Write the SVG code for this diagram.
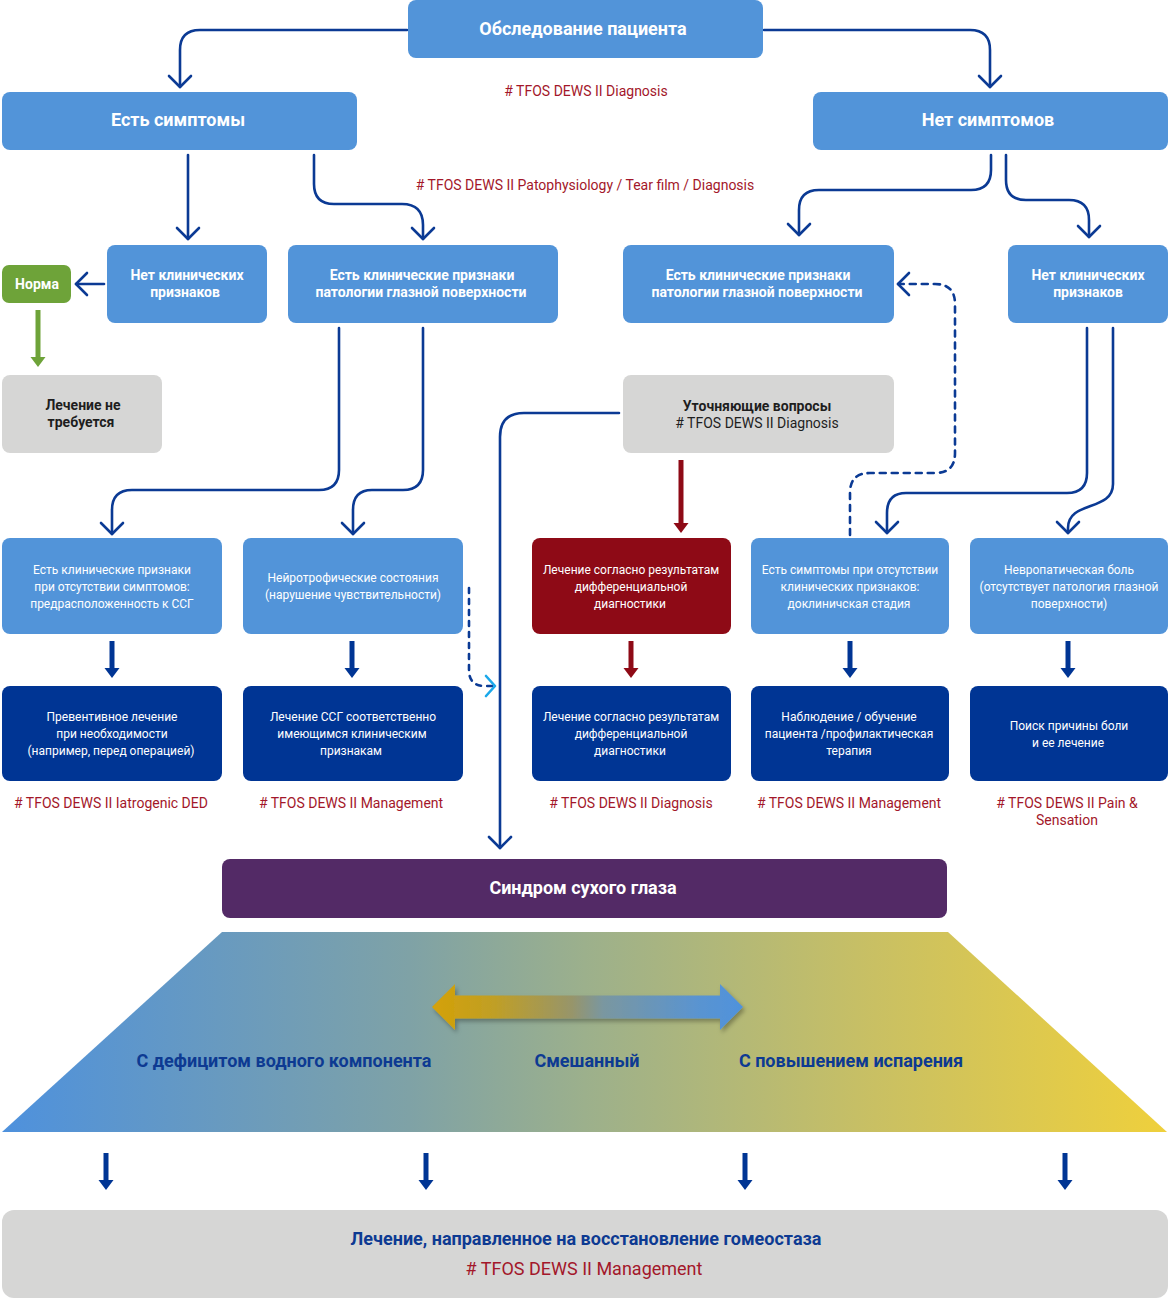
<svg xmlns="http://www.w3.org/2000/svg" width="1170" height="1300" viewBox="0 0 1170 1300">
<style>
text{font-family:Roboto,"Liberation Sans",sans-serif;text-anchor:middle}
.lb{fill:#5294d9}
.db{fill:#003594}
.gr{fill:#d6d6d5}
.t17{font-size:18px;font-weight:bold;fill:#fff}
.t13{font-size:14px;font-weight:bold;fill:#fff}
.t12{font-size:12px;fill:#fff}
.d13{font-size:14px;font-weight:bold;fill:#1e1e1e}
.ref{font-size:14px;fill:#a3172a}
.lab{font-size:18px;font-weight:bold;fill:#0d3a92}
.ln{fill:none;stroke:#0b3a94;stroke-width:2.6;stroke-linecap:round;stroke-linejoin:round}
.thk{fill:none;stroke:#003594;stroke-width:5}
</style>
<defs>
<marker id="chev" markerUnits="userSpaceOnUse" viewBox="-14 -14 28 28" markerWidth="28" markerHeight="28" refX="0" refY="0" orient="auto">
<path d="M-11,-11 L0,0 L-11,11" fill="none" stroke="#0b3a94" stroke-width="2.6" stroke-linecap="round" stroke-linejoin="round"/>
</marker>
<marker id="chevc" markerUnits="userSpaceOnUse" viewBox="-14 -14 28 28" markerWidth="28" markerHeight="28" refX="0" refY="0" orient="auto">
<path d="M-9,-10 L0,0 L-9,10" fill="none" stroke="#1aa8ea" stroke-width="2.6" stroke-linecap="round" stroke-linejoin="round"/>
</marker>
<marker id="thN" markerUnits="userSpaceOnUse" viewBox="0 -8 12 16" markerWidth="12" markerHeight="16" refX="0" refY="0" orient="auto">
<path d="M0,-7.5 L10,0 L0,7.5 z" fill="#003594"/>
</marker>
<marker id="thR" markerUnits="userSpaceOnUse" viewBox="0 -8 12 16" markerWidth="12" markerHeight="16" refX="0" refY="0" orient="auto">
<path d="M0,-7.5 L10,0 L0,7.5 z" fill="#8e0a16"/>
</marker>
<marker id="thG" markerUnits="userSpaceOnUse" viewBox="0 -8 12 16" markerWidth="12" markerHeight="16" refX="0" refY="0" orient="auto">
<path d="M0,-7.5 L10,0 L0,7.5 z" fill="#6ea339"/>
</marker>
<linearGradient id="trap" x1="0" y1="0" x2="1" y2="0">
<stop offset="0" stop-color="#4e91dd"/>
<stop offset="0.35" stop-color="#7fa2a6"/>
<stop offset="0.5" stop-color="#9cb08c"/>
<stop offset="0.75" stop-color="#c9c063"/>
<stop offset="1" stop-color="#efd03c"/>
</linearGradient>
<linearGradient id="dbl" x1="0" y1="0" x2="1" y2="0">
<stop offset="0" stop-color="#d4a106"/>
<stop offset="0.2" stop-color="#c09f26"/>
<stop offset="0.45" stop-color="#97956a"/>
<stop offset="0.55" stop-color="#7a97a0"/>
<stop offset="0.85" stop-color="#5a94d0"/>
<stop offset="1" stop-color="#4f92dc"/>
</linearGradient>
<filter id="sh" x="-10%" y="-40%" width="120%" height="180%">
<feDropShadow dx="2" dy="3" stdDeviation="2" flood-color="#000" flood-opacity="0.3"/>
</filter>
</defs>

<g id="connectors">
<path class="ln" d="M407,30 H200 Q180,30 180,50 V87" marker-end="url(#chev)"/>
<path class="ln" d="M764,30 H970 Q990,30 990,50 V87" marker-end="url(#chev)"/>
<path class="ln" d="M188,155 V239" marker-end="url(#chev)"/>
<path class="ln" d="M314,155 V184 Q314,204 334,204 H402 Q423,204 423,225 V239" marker-end="url(#chev)"/>
<path class="ln" d="M104,284 H76" marker-end="url(#chev)"/>
<path class="ln" d="M991,155 V170 Q991,190 971,190 H819 Q799,190 799,210 V235" marker-end="url(#chev)"/>
<path class="ln" d="M1006,155 V180 Q1006,200 1026,200 H1069 Q1089,200 1089,220 V237" marker-end="url(#chev)"/>
<path class="ln" d="M339,328 V470 Q339,490 319,490 H132 Q112,490 112,510 V534" marker-end="url(#chev)"/>
<path class="ln" d="M423,328 V470 Q423,490 403,490 H372 Q353,490 353,510 V534" marker-end="url(#chev)"/>
<path class="ln" d="M1087,328 V473 Q1087,493 1067,493 H906 Q887,493 887,513 V533" marker-end="url(#chev)"/>
<path class="ln" d="M1113,328 V484 C1113,512 1068,500 1068,528 V533" marker-end="url(#chev)"/>
<path class="ln" d="M619,413 H524 Q500,413 500,437 V848" marker-end="url(#chev)"/>
<path class="ln" d="M850,535 V493 Q850,473 870,473 H935 Q955,473 955,453 V304 Q955,284 935,284 H898" stroke-dasharray="6,6" marker-end="url(#chev)"/>
<path class="ln" d="M469,588 V670 Q469,686 485,686 H495" stroke="#1aa8ea" stroke-dasharray="5,6" marker-end="url(#chevc)"/>
<line x1="38" y1="310" x2="38" y2="357" stroke="#6ea339" stroke-width="5" marker-end="url(#thG)"/>
<line x1="681" y1="460" x2="681" y2="523" stroke="#8e0a16" stroke-width="5" marker-end="url(#thR)"/>
<line x1="631" y1="641" x2="631" y2="668" stroke="#8e0a16" stroke-width="5" marker-end="url(#thR)"/>
<line class="thk" x1="112" y1="641" x2="112" y2="668" marker-end="url(#thN)"/>
<line class="thk" x1="352" y1="641" x2="352" y2="668" marker-end="url(#thN)"/>
<line class="thk" x1="850" y1="641" x2="850" y2="668" marker-end="url(#thN)"/>
<line class="thk" x1="1068" y1="641" x2="1068" y2="668" marker-end="url(#thN)"/>
<line class="thk" x1="106" y1="1153" x2="106" y2="1180" marker-end="url(#thN)"/>
<line class="thk" x1="426" y1="1153" x2="426" y2="1180" marker-end="url(#thN)"/>
<line class="thk" x1="745" y1="1153" x2="745" y2="1180" marker-end="url(#thN)"/>
<line class="thk" x1="1065" y1="1153" x2="1065" y2="1180" marker-end="url(#thN)"/>
</g>

<g id="n-exam"><rect class="lb" x="408" y="0" width="355" height="58" rx="8"/><text class="t17" x="583" y="35">Обследование пациента</text></g>
<text class="ref" x="586" y="96">&#35; TFOS DEWS II Diagnosis</text>
<text class="ref" x="585" y="190">&#35; TFOS DEWS II Patophysiology / Tear film / Diagnosis</text>

<g id="n-sym"><rect class="lb" x="2" y="92" width="355" height="58" rx="8"/><text class="t17" x="178" y="126">Есть симптомы</text></g>
<g id="n-nosym"><rect class="lb" x="813" y="92" width="355" height="58" rx="8"/><text class="t17" x="988" y="126">Нет симптомов</text></g>

<g id="n-l-noclin"><rect class="lb" x="107" y="245" width="160" height="78" rx="8"/><text class="t13" x="187" y="280">Нет клинических</text><text class="t13" x="185" y="297">признаков</text></g>
<g id="n-l-clin"><rect class="lb" x="288" y="245" width="270" height="78" rx="8"/><text class="t13" x="422" y="280">Есть клинические признаки</text><text class="t13" x="421" y="297">патологии глазной поверхности</text></g>
<g id="n-r-clin"><rect class="lb" x="623" y="245" width="271" height="78" rx="8"/><text class="t13" x="758" y="280">Есть клинические признаки</text><text class="t13" x="757" y="297">патологии глазной поверхности</text></g>
<g id="n-r-noclin"><rect class="lb" x="1008" y="245" width="160" height="78" rx="8"/><text class="t13" x="1088" y="280">Нет клинических</text><text class="t13" x="1088" y="297">признаков</text></g>

<g id="n-norm"><rect x="2" y="265" width="69" height="38" rx="7" fill="#6ea339"/><text class="t13" x="37" y="289">Норма</text></g>
<g id="n-notreat"><rect class="gr" x="2" y="375" width="160" height="78" rx="8"/><text class="d13" x="83" y="410">Лечение не</text><text class="d13" x="81" y="427">требуется</text></g>
<g id="n-quest"><rect class="gr" x="623" y="375" width="271" height="78" rx="8"/><text class="d13" x="757" y="411">Уточняющие вопросы</text><text x="757" y="428" style="font-size:14px;fill:#1e1e1e"># TFOS DEWS II Diagnosis</text></g>

<g id="n-r3-1"><rect class="lb" x="2" y="538" width="220" height="96" rx="8"/><text class="t12" x="112" y="574">Есть клинические признаки</text><text class="t12" x="112" y="591">при отсутствии симптомов:</text><text class="t12" x="112" y="608">предрасположенность к ССГ</text></g>
<g id="n-r3-2"><rect class="lb" x="243" y="538" width="220" height="96" rx="8"/><text class="t12" x="353" y="582">Нейротрофические состояния</text><text class="t12" x="353" y="599">(нарушение чувствительности)</text></g>
<g id="n-r3-3"><rect x="532" y="538" width="199" height="96" rx="8" fill="#8e0a16"/><text class="t12" x="631" y="574">Лечение согласно результатам</text><text class="t12" x="631" y="591">дифференциальной</text><text class="t12" x="630" y="608">диагностики</text></g>
<g id="n-r3-4"><rect class="lb" x="751" y="538" width="198" height="96" rx="8"/><text class="t12" x="850" y="574">Есть симптомы при отсутствии</text><text class="t12" x="850" y="591">клинических признаков:</text><text class="t12" x="849" y="608">доклиничская стадия</text></g>
<g id="n-r3-5"><rect class="lb" x="970" y="538" width="198" height="96" rx="8"/><text class="t12" x="1069" y="574">Невропатическая боль</text><text class="t12" x="1069" y="591">(отсутствует патология глазной</text><text class="t12" x="1069" y="608">поверхности)</text></g>

<g id="n-r4-1"><rect class="db" x="2" y="686" width="220" height="95" rx="8"/><text class="t12" x="112" y="721">Превентивное лечение</text><text class="t12" x="112" y="738">при необходимости</text><text class="t12" x="111" y="755">(например, перед операцией)</text></g>
<g id="n-r4-2"><rect class="db" x="243" y="686" width="220" height="95" rx="8"/><text class="t12" x="353" y="721">Лечение ССГ соответственно</text><text class="t12" x="352" y="738">имеющимся клиническим</text><text class="t12" x="351" y="755">признакам</text></g>
<g id="n-r4-3"><rect class="db" x="532" y="686" width="199" height="95" rx="8"/><text class="t12" x="631" y="721">Лечение согласно результатам</text><text class="t12" x="631" y="738">дифференциальной</text><text class="t12" x="630" y="755">диагностики</text></g>
<g id="n-r4-4"><rect class="db" x="751" y="686" width="198" height="95" rx="8"/><text class="t12" x="849" y="721">Наблюдение / обучение</text><text class="t12" x="849" y="738">пациента /профилактическая</text><text class="t12" x="849" y="755">терапия</text></g>
<g id="n-r4-5"><rect class="db" x="970" y="686" width="198" height="95" rx="8"/><text class="t12" x="1069" y="730">Поиск причины боли</text><text class="t12" x="1068" y="747">и ее лечение</text></g>

<text class="ref" x="111" y="808">&#35; TFOS DEWS II Iatrogenic DED</text>
<text class="ref" x="351" y="808">&#35; TFOS DEWS II Management</text>
<text class="ref" x="631" y="808">&#35; TFOS DEWS II Diagnosis</text>
<text class="ref" x="849" y="808">&#35; TFOS DEWS II Management</text>
<text class="ref" x="1067" y="808">&#35; TFOS DEWS II Pain &amp;</text>
<text class="ref" x="1067" y="825">Sensation</text>

<g id="n-ded"><rect x="222" y="859" width="725" height="59" rx="8" fill="#532a66"/><text class="t17" x="583" y="894">Синдром сухого глаза</text></g>

<g id="n-types">
<path d="M222,932 H948 L1167,1132 H2 Z" fill="url(#trap)"/>
<path d="M432,1007 L455,984 V995.5 H720 V984 L743,1007 L720,1030 V1018.5 H455 V1030 Z" fill="url(#dbl)" filter="url(#sh)"/>
<text class="lab" x="284" y="1067">С дефицитом водного компонента</text>
<text class="lab" x="587" y="1067">Смешанный</text>
<text class="lab" x="851" y="1067">С повышением испарения</text>
</g>

<g id="n-treat"><rect class="gr" x="2" y="1210" width="1166" height="88" rx="12"/><text class="lab" x="586" y="1245">Лечение, направленное на восстановление гомеостаза</text><text x="584" y="1275" style="font-size:18px;fill:#a3172a"># TFOS DEWS II Management</text></g>
</svg>
